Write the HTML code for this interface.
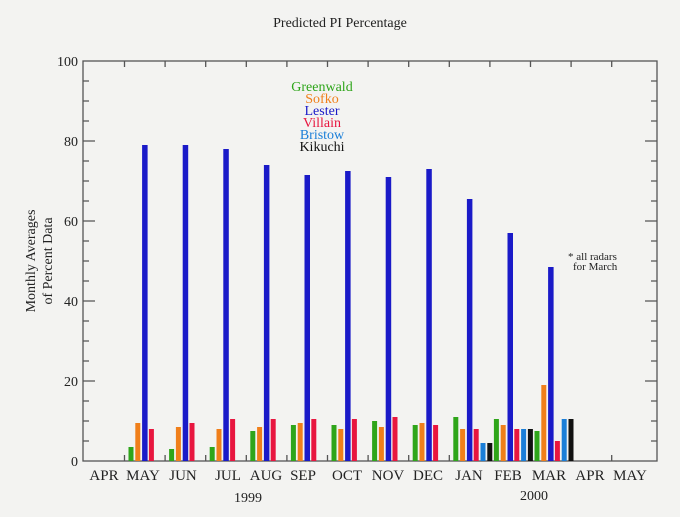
<!DOCTYPE html>
<html><head><style>
html,body{margin:0;padding:0;background:#f3f3f1;}
svg{display:block;font-family:"Liberation Serif",serif;}
</style></head><body>
<svg width="680" height="517" viewBox="0 0 680 517" xmlns="http://www.w3.org/2000/svg">
<rect width="680" height="517" fill="#f3f3f1"/>
<text x="340" y="27" font-size="14" text-anchor="middle" fill="#222">Predicted PI Percentage</text>
<rect x="83" y="61" width="574" height="400" stroke="#555" stroke-width="1.3" fill="none"/>
<path stroke="#555" stroke-width="1.3" fill="none" d="
M124.5 61v6M165.1 61v6M205.7 61v6M246.3 61v6M286.9 61v6M327.5 61v6M368.1 61v6M408.7 61v6M449.3 61v6M489.9 61v6M530.5 61v6M571.1 61v6M611.7 61v6
M124.5 461v-6M165.1 461v-6M205.7 461v-6M246.3 461v-6M286.9 461v-6M327.5 461v-6M368.1 461v-6M408.7 461v-6M449.3 461v-6M489.9 461v-6M530.5 461v-6M571.1 461v-6M611.7 461v-6
M83 381h12M83 301h12M83 221h12M83 141h12
M83 441h6M83 421h6M83 401h6M83 361h6M83 341h6M83 321h6M83 281h6M83 261h6M83 241h6M83 201h6M83 181h6M83 161h6M83 121h6M83 101h6M83 81h6
M657 381h-12M657 301h-12M657 221h-12M657 141h-12
M657 441h-6M657 421h-6M657 401h-6M657 361h-6M657 341h-6M657 321h-6M657 281h-6M657 261h-6M657 241h-6M657 201h-6M657 181h-6M657 161h-6M657 121h-6M657 101h-6M657 81h-6"/>
<g>
<rect x="128.5" y="447" width="5" height="14" fill="#2ea51a"/><rect x="135.3" y="423" width="5" height="38" fill="#f07f1a"/><rect x="142.1" y="145" width="5.5" height="316" fill="#1a1ac8"/><rect x="148.9" y="429" width="5" height="32" fill="#e8163f"/>
<rect x="169.1" y="449" width="5" height="12" fill="#2ea51a"/><rect x="175.9" y="427" width="5" height="34" fill="#f07f1a"/><rect x="182.7" y="145" width="5.5" height="316" fill="#1a1ac8"/><rect x="189.5" y="423" width="5" height="38" fill="#e8163f"/>
<rect x="209.7" y="447" width="5" height="14" fill="#2ea51a"/><rect x="216.5" y="429" width="5" height="32" fill="#f07f1a"/><rect x="223.3" y="149" width="5.5" height="312" fill="#1a1ac8"/><rect x="230.1" y="419" width="5" height="42" fill="#e8163f"/>
<rect x="250.3" y="431" width="5" height="30" fill="#2ea51a"/><rect x="257.1" y="427" width="5" height="34" fill="#f07f1a"/><rect x="263.9" y="165" width="5.5" height="296" fill="#1a1ac8"/><rect x="270.7" y="419" width="5" height="42" fill="#e8163f"/>
<rect x="290.9" y="425" width="5" height="36" fill="#2ea51a"/><rect x="297.7" y="423" width="5" height="38" fill="#f07f1a"/><rect x="304.5" y="175" width="5.5" height="286" fill="#1a1ac8"/><rect x="311.3" y="419" width="5" height="42" fill="#e8163f"/>
<rect x="331.5" y="425" width="5" height="36" fill="#2ea51a"/><rect x="338.3" y="429" width="5" height="32" fill="#f07f1a"/><rect x="345.1" y="171" width="5.5" height="290" fill="#1a1ac8"/><rect x="351.9" y="419" width="5" height="42" fill="#e8163f"/>
<rect x="372.1" y="421" width="5" height="40" fill="#2ea51a"/><rect x="378.9" y="427" width="5" height="34" fill="#f07f1a"/><rect x="385.7" y="177" width="5.5" height="284" fill="#1a1ac8"/><rect x="392.5" y="417" width="5" height="44" fill="#e8163f"/>
<rect x="412.7" y="425" width="5" height="36" fill="#2ea51a"/><rect x="419.5" y="423" width="5" height="38" fill="#f07f1a"/><rect x="426.3" y="169" width="5.5" height="292" fill="#1a1ac8"/><rect x="433.1" y="425" width="5" height="36" fill="#e8163f"/>
<rect x="453.3" y="417" width="5" height="44" fill="#2ea51a"/><rect x="460.1" y="429" width="5" height="32" fill="#f07f1a"/><rect x="466.9" y="199" width="5.5" height="262" fill="#1a1ac8"/><rect x="473.7" y="429" width="5" height="32" fill="#e8163f"/><rect x="480.5" y="443" width="5" height="18" fill="#1a7ed8"/><rect x="487.3" y="443" width="5" height="18" fill="#111"/>
<rect x="493.9" y="419" width="5" height="42" fill="#2ea51a"/><rect x="500.7" y="425" width="5" height="36" fill="#f07f1a"/><rect x="507.5" y="233" width="5.5" height="228" fill="#1a1ac8"/><rect x="514.3" y="429" width="5" height="32" fill="#e8163f"/><rect x="521.1" y="429" width="5" height="32" fill="#1a7ed8"/><rect x="527.9" y="429" width="5" height="32" fill="#111"/>
<rect x="534.5" y="431" width="5" height="30" fill="#2ea51a"/><rect x="541.3" y="385" width="5" height="76" fill="#f07f1a"/><rect x="548.1" y="267" width="5.5" height="194" fill="#1a1ac8"/><rect x="554.9" y="441" width="5" height="20" fill="#e8163f"/><rect x="561.7" y="419" width="5" height="42" fill="#1a7ed8"/><rect x="568.5" y="419" width="5" height="42" fill="#111"/>
</g>
<g font-size="14" fill="#222" text-anchor="end">
<text x="78" y="66">100</text><text x="78" y="146">80</text><text x="78" y="226">60</text><text x="78" y="306">40</text><text x="78" y="386">20</text><text x="78" y="466">0</text>
</g>
<text transform="translate(35,261) rotate(-90)" font-size="14" fill="#222" text-anchor="middle">Monthly Averages</text>
<text transform="translate(52,261) rotate(-90)" font-size="14" fill="#222" text-anchor="middle">of Percent Data</text>
<g font-size="15" fill="#222" text-anchor="middle">
<text x="104" y="480">APR</text><text x="143" y="480">MAY</text><text x="183" y="480">JUN</text><text x="228" y="480">JUL</text><text x="266" y="480">AUG</text><text x="303" y="480">SEP</text><text x="347" y="480">OCT</text><text x="388" y="480">NOV</text><text x="428" y="480">DEC</text><text x="469" y="480">JAN</text><text x="508" y="480">FEB</text><text x="549" y="480">MAR</text><text x="590" y="480">APR</text><text x="630" y="480">MAY</text>
</g>
<text x="248" y="502" font-size="14" fill="#222" text-anchor="middle">1999</text>
<text x="534" y="500" font-size="14" fill="#222" text-anchor="middle">2000</text>
<g font-size="14" text-anchor="middle">
<text x="322" y="91" fill="#2ea51a">Greenwald</text>
<text x="322" y="103" fill="#f07f1a">Sofko</text>
<text x="322" y="115" fill="#1a1ac8">Lester</text>
<text x="322" y="127" fill="#e8163f">Villain</text>
<text x="322" y="139" fill="#1a7ed8">Bristow</text>
<text x="322" y="151" fill="#111">Kikuchi</text>
</g>
<text x="568" y="260" font-size="11" fill="#222">* all radars</text>
<text x="573" y="270" font-size="11" fill="#222">for March</text>
</svg>
</body></html>
